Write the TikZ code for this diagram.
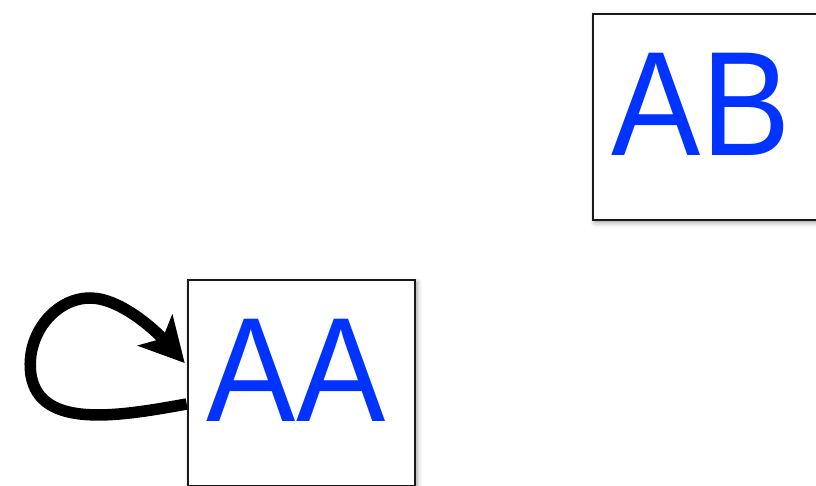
\documentclass[tikz,border=0pt]{standalone}
\usepackage{fontspec}
\setmainfont{Liberation Sans}
\usetikzlibrary{arrows.meta,shadows.blur}
\definecolor{letterblue}{RGB}{0,51,255}
\tikzset{
  statebox/.style={draw=black!90, line width=2.6pt, fill=white,
    minimum width=227pt, minimum height=206pt, inner sep=0pt,
    blur shadow={shadow xshift=2pt, shadow yshift=-2.5pt,
      shadow blur radius=5pt, shadow opacity=40}},
  boxname/.style={text=letterblue, font=\fontsize{148.7}{150}\selectfont,
    inner sep=0pt, xshift=-5.5pt, yshift=13pt},
  selfloop/.style={line width=11.5pt, draw=black,
    -{Stealth[length=44pt,width=46pt,inset=11pt]}}
}
\begin{document}
\begin{tikzpicture}[x=1pt,y=-1pt]
  \useasboundingbox (0,0) rectangle (816,486);
  % the two states
  \node[statebox, label={[boxname]center:{\scalebox{0.9}[1]{AB}}}] (AB) at (706.5,117) {};
  \node[statebox, label={[boxname]center:{\scalebox{0.9}[1]{AA}}}] (AA) at (301.5,383) {};
  % self transition on AA
  \draw[selfloop] ([yshift=-21pt]AA.west)
    .. controls (120,416) and (40,430) .. (31,375)
    .. controls (25,335) and (55,298) .. (90,298)
    .. controls (120,298) and (155,330) .. ([xshift=-2pt,yshift=20pt]AA.west);
\end{tikzpicture}
\end{document}
